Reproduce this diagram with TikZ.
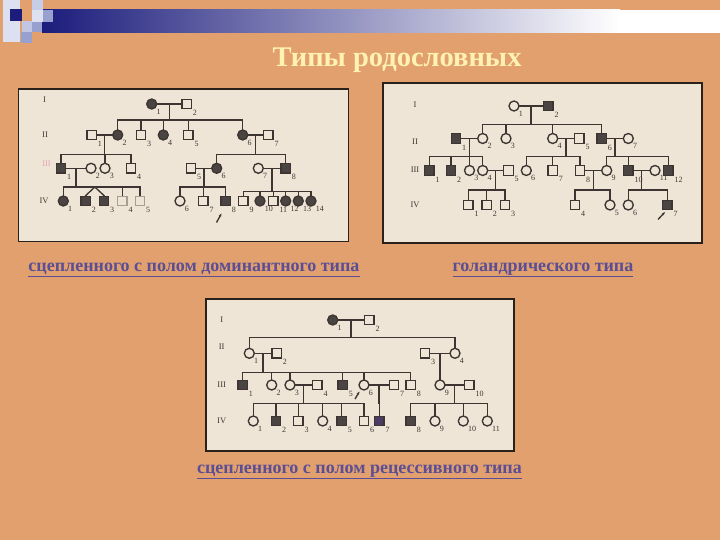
\documentclass[tikz,border=0pt]{standalone}
\usepackage{fontspec}
\setmainfont{Liberation Serif}
\usetikzlibrary{arrows.meta,calc}
\definecolor{bgc}{HTML}{E2A06E}
\definecolor{panelc}{HTML}{EEE5D7}
\definecolor{framec}{HTML}{2B211B}
\definecolor{plinec}{HTML}{3E3532}
\definecolor{pdarkc}{HTML}{4A4442}
\definecolor{capc}{HTML}{5B4E94}
\definecolor{titlec}{HTML}{FFF2B2}
\definecolor{navyc}{HTML}{1C1C7C}
\definecolor{palec}{HTML}{DDE0F0}
\definecolor{midc}{HTML}{98A0D0}
\definecolor{fadec}{HTML}{A89C94}
\definecolor{pinkc}{HTML}{E6A2B4}
\definecolor{purpc}{HTML}{4A3C66}
\newcommand\pfamily[7]{%
  \draw[ln] (#1) -- (#2);
  \coordinate (#3m) at ($(#1)!0.5!(#2)$);
  \coordinate (#3y) at (0,#4);
  \draw[ln] (#3m) -- (#3m |- #3y);
  \draw[ln] (#5 |- #3y) -- (#6 |- #3y);
  \foreach \ch in {#7} {\draw[ln] (\ch.north) -- (\ch |- #3y);}
}
\begin{document}
\begin{tikzpicture}[x=1pt,y=-1pt,
  ln/.style={line width=1.35pt, draw=plinec, line cap=rect},
  sq/.style={rectangle, draw=plinec, line width=1.35pt, fill=panelc, minimum size=9.5pt, inner sep=0pt},
  fsq/.style={sq, fill=pdarkc},
  ci/.style={circle, draw=plinec, line width=1.35pt, fill=panelc, minimum size=10pt, inner sep=0pt},
  fci/.style={ci, fill=pdarkc},
  lbl/.style={font=\fontsize{8}{8}\selectfont, text=plinec, inner sep=0.6pt},
  lab/.style={label={[lbl]-45:#1}},
  gen/.style={font=\fontsize{8.5}{9}\selectfont, text=plinec},
  panel/.style={draw=framec, line width=1.6pt, fill=panelc},
  captxt/.style={font=\fontsize{18}{21}\selectfont\bfseries, text=capc},
]
\useasboundingbox (0,0) rectangle (720,540);
\fill[bgc] (0,0) rectangle (720,540);
% top-left decoration
\fill[palec] (3,0) rectangle (20,42);
\shade[left color=navyc, right color=white] (42,10) rectangle (620,33);
\fill[white] (619.5,10) rectangle (720,33);
\fill[navyc] (9.5,9.5) rectangle (21.5,21);
\fill[palec!70!midc] (32,0) rectangle (43,10);
\fill[palec] (32,10) rectangle (43,22);
\fill[midc] (43,10) rectangle (53,22);
\fill[palec!60!midc] (21.5,21.5) rectangle (32,32);
\fill[midc] (32,22) rectangle (42,32);
\fill[midc] (21,32) rectangle (32,43);
% title
\node[font=\fontsize{28.5}{32}\selectfont\bfseries, text=titlec] (title) at (397,60) {Типы родословных};
% panels
\draw[panel] (18.5,89) rectangle (348.5,241.5);
\draw[panel] (383,83) rectangle (702,243);
\draw[panel] (206,299) rectangle (514,451);
% captions
\node[captxt] (cap1) at (194,270) {\underline{сцепленного с полом доминантного типа}};
\node[captxt] (cap2) at (543,270) {\underline{голандрического типа}};
\node[captxt] (cap3) at (359.5,472) {\underline{сцепленного с полом рецессивного типа}};

% ===== Panel 1 =====
\node[gen] (aGI) at (44.5,100) {I};
\node[gen] (aGII) at (45,135) {II};
\node[gen,text=pinkc] (aGIII) at (46.5,164) {III};
\node[gen] (aGIV) at (44,200.5) {IV};
\node[fci,lab=1] (aI1) at (151.7,104) {};
\node[sq,lab=2] (aI2) at (186.7,104) {};
\node[sq,lab=1] (aII1) at (91.7,135) {};
\node[fci,lab=2] (aII2) at (117.7,135) {};
\node[sq,lab=3] (aII3) at (141,135) {};
\node[fci,lab=4] (aII4) at (163.3,135) {};
\node[sq,lab=5] (aII5) at (188.3,135) {};
\node[fci,lab=6] (aII6) at (242.7,135) {};
\node[sq,lab=7] (aII7) at (268.3,135) {};
\node[fsq,lab=1] (aIII1) at (61,168.3) {};
\node[ci,lab=2] (aIII2) at (91,168.3) {};
\node[ci,lab=3] (aIII3) at (105,168.3) {};
\node[sq,lab=4] (aIII4) at (131,168.3) {};
\node[sq,lab=5] (aIII5) at (191,168.3) {};
\node[fci,lab=6] (aIII6) at (216.7,168.3) {};
\node[ci,lab=7] (aIII7) at (258.3,168.3) {};
\node[fsq,lab=8] (aIII8) at (285.7,168.3) {};
\node[fci,lab=1] (aIV1) at (63.3,201) {};
\node[fsq,lab=2] (aIV2) at (85.7,201) {};
\node[fsq,lab=3] (aIV3) at (104,201) {};
\node[sq,draw=fadec,lab=4] (aIV4) at (122.3,201) {};
\node[sq,draw=fadec,lab=5] (aIV5) at (140,201) {};
\node[ci,lab=6] (aIV6) at (180,201) {};
\node[sq,lab=7] (aIV7) at (203.3,201) {};
\node[fsq,lab=8] (aIV8) at (225.7,201) {};
\node[sq,lab=9] (aIV9) at (243.3,201) {};
\node[fci,lab=10] (aIV10) at (260,201) {};
\node[sq,lab=11] (aIV11) at (273.3,201) {};
\node[fci,lab=12] (aIV12) at (285.7,201) {};
\node[fci,lab=13] (aIV13) at (298.3,201) {};
\node[fci,lab=14] (aIV14) at (311,201) {};
\pfamily{aI1}{aI2}{aF1}{120}{aII2}{aII6}{aII2,aII3,aII4,aII5,aII6}
\pfamily{aII1}{aII2}{aF2}{154.3}{aIII1}{aIII4}{aIII1,aIII3,aIII4}
\pfamily{aII6}{aII7}{aF3}{154.3}{aIII6}{aIII8}{aIII6,aIII8}
\pfamily{aIII1}{aIII2}{aF4}{187}{aIV1}{aIV5}{aIV1,aIV4,aIV5}
\coordinate (aTwx) at ($(aIV2)!0.5!(aIV3)$);
\coordinate (aTw) at (aTwx |- aF4y);
\draw[ln] (aTw) -- (aIV2.north);
\draw[ln] (aTw) -- (aIV3.north);
\pfamily{aIII5}{aIII6}{aF5}{187}{aIV6}{aIV8}{aIV6,aIV7,aIV8}
\pfamily{aIII7}{aIII8}{aF6}{191.5}{aIV9}{aIV14}{aIV9,aIV10,aIV11,aIV12,aIV13,aIV14}
\coordinate (aP0) at (216.5,222.5);
\coordinate (aP1) at (221.5,213.5);
\draw[ln,line cap=butt,-{Stealth[length=3.5pt]}] (aP0) -- (aP1);

% ===== Panel 2 =====
\node[gen] (bGI) at (415,105) {I};
\node[gen] (bGII) at (415,141.7) {II};
\node[gen] (bGIII) at (415,170) {III};
\node[gen] (bGIV) at (415,205) {IV};
\node[ci,lab=1] (bI1) at (514,106) {};
\node[fsq,lab=2] (bI2) at (548.3,106) {};
\node[fsq,lab=1] (bII1) at (456,138.5) {};
\node[ci,lab=2] (bII2) at (482.7,138.5) {};
\node[ci,lab=3] (bII3) at (506,138.5) {};
\node[ci,lab=4] (bII4) at (552.7,138.5) {};
\node[sq,lab=5] (bII5) at (579.3,138.5) {};
\node[fsq,lab=6] (bII6) at (601.7,138.5) {};
\node[ci,lab=7] (bII7) at (628.3,138.5) {};
\node[fsq,lab=1] (bIII1) at (429.3,170.5) {};
\node[fsq,lab=2] (bIII2) at (451,170.5) {};
\node[ci,lab=3] (bIII3) at (469.5,170.5) {};
\node[ci,lab=4] (bIII4) at (482.7,170.5) {};
\node[sq,lab=5] (bIII5) at (508.5,170.5) {};
\node[ci,lab=6] (bIII6) at (526.3,170.5) {};
\node[sq,lab=7] (bIII7) at (552.7,170.5) {};
\node[sq,lab=8] (bIII8) at (580,170.5) {};
\node[ci,lab=9] (bIII9) at (606.7,170.5) {};
\node[fsq,lab=10] (bIII10) at (628.3,170.5) {};
\node[ci,lab=11] (bIII11) at (655,170.5) {};
\node[fsq,lab=12] (bIII12) at (668.3,170.5) {};
\node[sq,lab=1] (bIV1) at (468.3,205) {};
\node[sq,lab=2] (bIV2) at (486.7,205) {};
\node[sq,lab=3] (bIV3) at (505,205) {};
\node[sq,lab=4] (bIV4) at (575,205) {};
\node[ci,lab=5] (bIV5) at (610,205) {};
\node[ci,lab=6] (bIV6) at (628.3,205) {};
\node[fsq,lab=7] (bIV7) at (667.3,205) {};
\pfamily{bI1}{bI2}{bF1}{124.5}{bII2}{bII6}{bII2,bII3,bII4,bII6}
\pfamily{bII1}{bII2}{bF2}{156.5}{bIII1}{bIII4}{bIII1,bIII2,bIII3,bIII4}
\pfamily{bII4}{bII5}{bF3}{156.5}{bIII6}{bIII8}{bIII6,bIII7,bIII8}
\pfamily{bII6}{bII7}{bF4}{156.5}{bIII9}{bIII12}{bIII9,bIII10,bIII12}
\pfamily{bIII4}{bIII5}{bF5}{190}{bIV1}{bIV3}{bIV1,bIV2,bIV3}
\pfamily{bIII8}{bIII9}{bF6}{190}{bIV4}{bIV5}{bIV4,bIV5}
\pfamily{bIII10}{bIII11}{bF7}{190}{bIV6}{bIV7}{bIV6,bIV7}
\coordinate (bP0) at (658,219.5);
\coordinate (bP1) at (665,212);
\draw[ln,line cap=butt,-{Stealth[length=3.5pt]}] (bP0) -- (bP1);

% ===== Panel 3 =====
\node[gen] (cGI) at (221.7,320) {I};
\node[gen] (cGII) at (221.7,346.7) {II};
\node[gen] (cGIII) at (221.7,385) {III};
\node[gen] (cGIV) at (221.7,421) {IV};
\node[fci,lab=1] (cI1) at (332.7,320) {};
\node[sq,lab=2] (cI2) at (369.3,320) {};
\node[ci,lab=1] (cII1) at (249.3,353.3) {};
\node[sq,lab=2] (cII2) at (276.7,353.3) {};
\node[sq,lab=3] (cII3) at (425,353.3) {};
\node[ci,lab=4] (cII4) at (455,353.3) {};
\node[fsq,lab=1] (cIII1) at (242.7,385) {};
\node[ci,lab=2] (cIII2) at (271.7,385) {};
\node[ci,lab=3] (cIII3) at (290,385) {};
\node[sq,lab=4] (cIII4) at (317.3,385) {};
\node[fsq,lab=5] (cIII5) at (342.7,385) {};
\node[ci,lab=6] (cIII6) at (364,385) {};
\node[sq,lab=7] (cIII7) at (394,385) {};
\node[sq,lab=8] (cIII8) at (410.7,385) {};
\node[ci,lab=9] (cIII9) at (440,385) {};
\node[sq,lab=10] (cIII10) at (469.3,385) {};
\node[ci,lab=1] (cIV1) at (253.3,421) {};
\node[fsq,lab=2] (cIV2) at (276,421) {};
\node[sq,lab=3] (cIV3) at (298.3,421) {};
\node[ci,lab=4] (cIV4) at (322.7,421) {};
\node[fsq,lab=5] (cIV5) at (341.7,421) {};
\node[sq,lab=6] (cIV6) at (364,421) {};
\node[fsq,fill=purpc,lab=7] (cIV7) at (379.3,421) {};
\node[fsq,lab=8] (cIV8) at (410.7,421) {};
\node[ci,lab=9] (cIV9) at (435,421) {};
\node[ci,lab=10] (cIV10) at (463.3,421) {};
\node[ci,lab=11] (cIV11) at (487.3,421) {};
\pfamily{cI1}{cI2}{cF1}{337.7}{cII1}{cII4}{cII1,cII4}
\pfamily{cII1}{cII2}{cF2}{372.3}{cIII1}{cIII8}{cIII1,cIII2,cIII3,cIII5,cIII6,cIII8}
\pfamily{cII3}{cII4}{cF3}{372.3}{cIII9}{cIII9}{cIII9}
\pfamily{cIII3}{cIII4}{cF4}{403.3}{cIV1}{cIV6}{cIV1,cIV2,cIV3,cIV4,cIV5,cIV6}
\pfamily{cIII6}{cIII7}{cF5}{403.3}{cIV7}{cIV7}{cIV7}
\pfamily{cIII9}{cIII10}{cF6}{403.3}{cIV8}{cIV11}{cIV8,cIV9,cIV10,cIV11}
\coordinate (cP0) at (355,399);
\coordinate (cP1) at (359.5,391.5);
\draw[ln,line cap=butt,-{Stealth[length=3.5pt]}] (cP0) -- (cP1);
\end{tikzpicture}
\end{document}
